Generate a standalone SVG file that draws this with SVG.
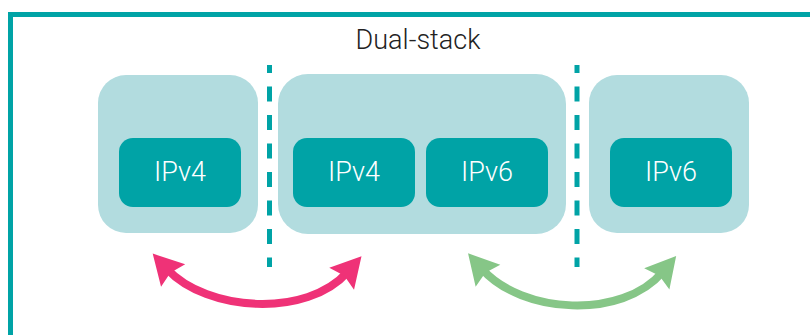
<svg xmlns="http://www.w3.org/2000/svg" width="810" height="335" viewBox="0 0 810 335">
<style>
.frame{fill:none;stroke:#00A3A6;stroke-width:5}
.outer{fill:#B2DCDF}
.inner{fill:#00A3A6}
.lbl{font-family:Roboto,"Liberation Sans",sans-serif;font-weight:300;font-size:27px;fill:#fff;text-anchor:middle}
.title{font-family:Roboto,"Liberation Sans",sans-serif;font-weight:300;font-size:27px;fill:#222;text-anchor:middle}
.sep{stroke:#00A3A6;stroke-width:5;stroke-dasharray:15 13.5;stroke-dashoffset:7}
.arc{fill:none;stroke-width:8}
</style>
<defs>
<marker id="hp" markerUnits="userSpaceOnUse" viewBox="-10 -20 40 40" markerWidth="40" markerHeight="40" refX="5" refY="0" orient="auto-start-reverse">
<path d="M26,0 L-4,-16.5 L0,0 L-4,16.5 Z" fill="#EF3277"/>
</marker>
<marker id="hg" markerUnits="userSpaceOnUse" viewBox="-10 -20 40 40" markerWidth="40" markerHeight="40" refX="5" refY="0" orient="auto-start-reverse">
<path d="M26,0 L-4,-16.5 L0,0 L-4,16.5 Z" fill="#86C687"/>
</marker>
</defs>
<rect class="frame" x="10.5" y="14.5" width="900" height="400"/>
<text class="title" x="418" y="49">Dual-stack</text>
<g id="host-ipv4">
<rect class="outer" x="98" y="75" width="160" height="158" rx="28"/>
<rect class="inner" x="119" y="138" width="122" height="69" rx="14"/>
<text class="lbl" x="180" y="181">IPv4</text>
</g>
<g id="host-dual">
<rect class="outer" x="278" y="74" width="288" height="160" rx="30"/>
<rect class="inner" x="293" y="138" width="122" height="69" rx="14"/>
<text class="lbl" x="354" y="181">IPv4</text>
<rect class="inner" x="426" y="138" width="122" height="69" rx="14"/>
<text class="lbl" x="487" y="181">IPv6</text>
</g>
<g id="host-ipv6">
<rect class="outer" x="589" y="75" width="160" height="158" rx="28"/>
<rect class="inner" x="610" y="138" width="122" height="69" rx="14"/>
<text class="lbl" x="671" y="181">IPv6</text>
</g>
<g id="connectors">
<line class="sep" x1="269.5" y1="65" x2="269.5" y2="267"/>
<line class="sep" x1="577" y1="65" x2="577" y2="267"/>
<path class="arc" stroke="#EF3277" d="M167,269 C207,312 307,318 347.6,272" marker-start="url(#hp)" marker-end="url(#hp)"/>
<path class="arc" stroke="#86C687" d="M482,269 C522,314 622,320 662.6,272" marker-start="url(#hg)" marker-end="url(#hg)"/>
</g>
</svg>
